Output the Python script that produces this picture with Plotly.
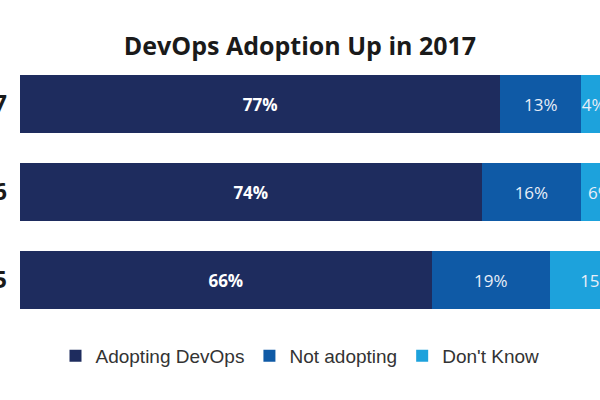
import plotly.graph_objects as go

years = ["2017", "2016", "2015"]
adopting = [77, 74, 66]
not_adopting = [13, 16, 19]
dont_know = [4, 6, 15]

series = [
    ("Adopting DevOps", adopting, "#1e2c5e", dict(family="Open Sans", size=17, color="white", weight="bold")),
    ("Not adopting", not_adopting, "#0f5aa6", dict(family="Open Sans", size=17, color="#e8eef8")),
    ("Don't Know", dont_know, "#1da2dc", dict(family="Open Sans", size=17, color="#e8eef8")),
]

fig = go.Figure()
for name, vals, color, tfont in series:
    fig.add_trace(go.Bar(
        y=years, x=vals, name=name, orientation="h",
        marker=dict(color=color, line=dict(width=0)),
        text=[f"{v}%" for v in vals], textposition="inside",
        insidetextanchor="middle", textfont=tfont, textangle=0,
        constraintext="none",
        hoverinfo="skip",
    ))

fig.update_layout(
    width=600, height=400,
    barmode="stack", bargap=0.34,
    paper_bgcolor="white", plot_bgcolor="white",
    margin=dict(l=20, r=0, t=60, b=76, autoexpand=False),
    title=dict(text="<b>DevOps Adoption Up in 2017</b>", x=0.5, xref="container", xanchor="center",
               y=0.885, yanchor="middle",
               font=dict(family="Open Sans", size=25, color="#1a1a1a")),
    xaxis=dict(range=[0, 93], visible=False, fixedrange=True),
    yaxis=dict(autorange="reversed", showgrid=False, showline=False, zeroline=False,
               ticks="", ticklabelstandoff=12, automargin=False,
               tickfont=dict(family="Open Sans", size=24, color="#1a1a1a", weight="bold")),
    legend=dict(orientation="h", xref="container", x=0.5, xanchor="center",
                yref="container", y=0.11, yanchor="middle",
                font=dict(family="Liberation Sans", size=19, color="#333333"),
                itemwidth=30, traceorder="normal"),
    showlegend=True,
)

fig.write_html("out.html")
